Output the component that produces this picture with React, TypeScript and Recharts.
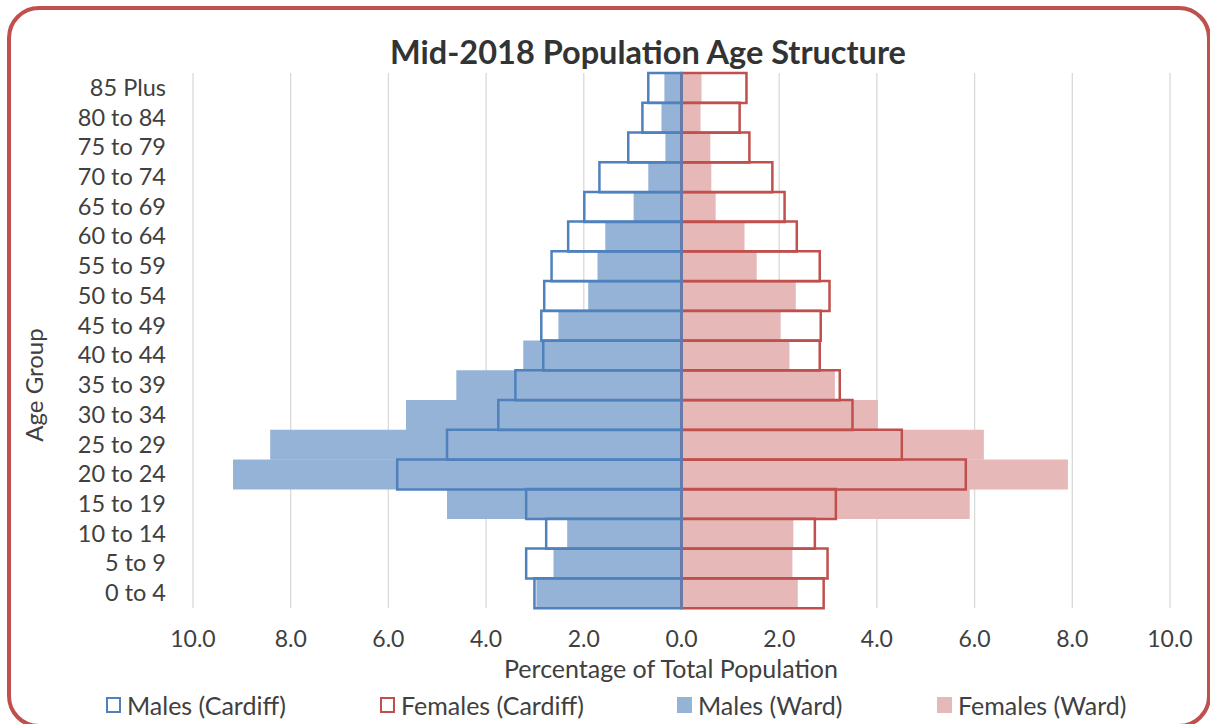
import React from "react"
import { BarChart, Bar, XAxis, YAxis, CartesianGrid } from "recharts"

const ages = [
  "85 Plus", "80 to 84", "75 to 79", "70 to 74", "65 to 69", "60 to 64",
  "55 to 59", "50 to 54", "45 to 49", "40 to 44", "35 to 39", "30 to 34",
  "25 to 29", "20 to 24", "15 to 19", "10 to 14", "5 to 9", "0 to 4",
]
const malesCardiff = [0.68, 0.8, 1.09, 1.68, 1.99, 2.32, 2.66, 2.81, 2.87, 2.83, 3.4, 3.75, 4.8, 5.82, 3.18, 2.77, 3.18, 3.01]
const femalesCardiff = [1.33, 1.19, 1.39, 1.86, 2.11, 2.36, 2.83, 3.03, 2.85, 2.83, 3.24, 3.5, 4.51, 5.82, 3.16, 2.73, 2.99, 2.91]
const malesWard = [0.35, 0.41, 0.33, 0.68, 0.98, 1.56, 1.72, 1.91, 2.52, 3.24, 4.61, 5.64, 8.42, 9.18, 4.8, 2.34, 2.62, 2.97]
const femalesWard = [0.41, 0.39, 0.59, 0.61, 0.7, 1.29, 1.54, 2.34, 2.03, 2.21, 3.14, 4.02, 6.19, 7.91, 5.9, 2.29, 2.27, 2.38]
const xTicks = [-10, -8, -6, -4, -2, 0, 2, 4, 6, 8, 10]

const FONT = "Lato, 'Open Sans', sans-serif"
const TEXT = "#404040"

const data = ages.map((age, i) => ({
  age,
  malesCardiff: -malesCardiff[i],
  femalesCardiff: femalesCardiff[i],
  malesWard: -malesWard[i],
  femalesWard: femalesWard[i],
}))

const legendItems = [
  { label: "Males (Cardiff)", stroke: "#4F81BD", fill: "none", left: 106 },
  { label: "Females (Cardiff)", stroke: "#C0504D", fill: "none", left: 380 },
  { label: "Males (Ward)", stroke: "none", fill: "#95B3D7", left: 677 },
  { label: "Females (Ward)", stroke: "none", fill: "#E6B9B8", left: 937 },
]

// ticks on the left, right-aligned next to the plot
const AgeTick = (props: any) => {
  const { y, payload } = props
  return (
    <text x={166} y={y} dy={8} textAnchor="end" fontSize={23.5} fill={TEXT} fontFamily={FONT}>
      {payload.value}
    </text>
  )
}

export default function App() {
  return (
    <div
      style={{
        position: "fixed",
        left: 0,
        top: 0,
        width: 1210,
        height: 724,
        overflow: "hidden",
        background: "#fff",
        fontFamily: FONT,
        color: TEXT,
      }}
    >
      <div
        style={{
          position: "absolute",
          left: 7,
          top: 6,
          width: 1204,
          height: 722,
          border: "4px solid #C0504D",
          borderRadius: 32,
          boxSizing: "border-box",
        }}
      />
      <div
        style={{
          position: "absolute",
          left: 0,
          width: 1296,
          top: 32,
          textAlign: "center",
          fontSize: 32.5,
          fontWeight: 700,
          color: "#333",
          lineHeight: "40px",
        }}
      >
        Mid-2018 Population Age Structure
      </div>
      <div style={{ position: "absolute", left: 0, top: 0 }}>
        <BarChart
          width={1210}
          height={724}
          data={data}
          layout="vertical"
          stackOffset="sign"
          barCategoryGap={0}
          margin={{ top: 73, right: 40, left: 0, bottom: 0 }}
        >
          <CartesianGrid yAxisId="w" horizontal={false} stroke="#D9D9D9" strokeWidth={1.3} />
          <XAxis
            type="number"
            domain={[-10, 10]}
            ticks={xTicks}
            height={116}
            axisLine={false}
            tickLine={false}
            tickSize={0}
            tickMargin={23}
            tick={{ fontSize: 23, fill: TEXT, fontFamily: FONT }}
            tickFormatter={(v: number) => Math.abs(v).toFixed(1)}
          />
          <YAxis
            yAxisId="w"
            type="category"
            dataKey="age"
            width={193}
            axisLine={false}
            tickLine={false}
            interval={0}
            tick={<AgeTick />}
          />
          <YAxis yAxisId="c" type="category" dataKey="age" width={0} hide />
          <Bar yAxisId="w" dataKey="malesWard" stackId="w" fill="#95B3D7" isAnimationActive={false} />
          <Bar yAxisId="w" dataKey="femalesWard" stackId="w" fill="#E6B9B8" isAnimationActive={false} />
          <Bar
            yAxisId="c"
            dataKey="femalesCardiff"
            stackId="c"
            fill="none"
            stroke="#C0504D"
            strokeWidth={2.5}
            isAnimationActive={false}
          />
          <Bar
            yAxisId="c"
            dataKey="malesCardiff"
            stackId="c"
            fill="none"
            stroke="#4F81BD"
            strokeWidth={2.5}
            isAnimationActive={false}
          />
        </BarChart>
      </div>
      <div
        style={{
          position: "absolute",
          left: 33,
          top: 385,
          transform: "translate(-50%, -50%) rotate(-90deg)",
          fontSize: 24,
          whiteSpace: "nowrap",
        }}
      >
        Age Group
      </div>
      <div
        style={{
          position: "absolute",
          left: 0,
          width: 1342,
          top: 653,
          textAlign: "center",
          fontSize: 25,
          lineHeight: "30px",
        }}
      >
        Percentage of Total Population
      </div>
      {legendItems.map((it) => (
        <div
          key={it.label}
          style={{
            position: "absolute",
            left: it.left,
            top: 690,
            height: 30,
            display: "flex",
            alignItems: "center",
            fontSize: 25,
            whiteSpace: "nowrap",
          }}
        >
          <span
            style={{
              display: "inline-block",
              width: it.stroke === "none" ? 15 : 11,
              height: it.stroke === "none" ? 16 : 12,
              background: it.fill === "none" ? "transparent" : it.fill,
              border: it.stroke === "none" ? "none" : `2px solid ${it.stroke}`,
              marginRight: 6,
            }}
          />
          {it.label}
        </div>
      ))}
    </div>
  )
}
